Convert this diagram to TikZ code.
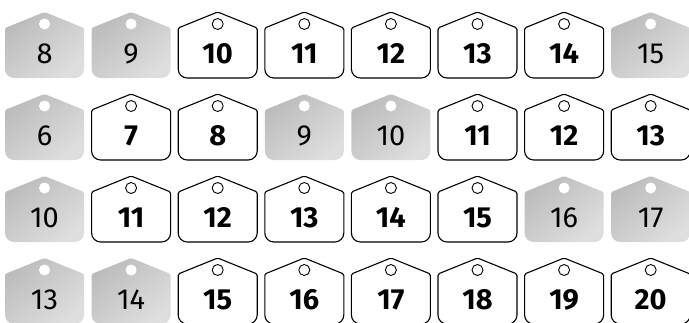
\documentclass[tikz,border=0pt]{standalone}
\usepackage{fontspec}
\setmainfont{Fira Sans}
\definecolor{tagdark}{RGB}{188,188,188}
\definecolor{taglight}{RGB}{222,222,222}
\tikzset{
  tagw/.style={draw=black, line width=1.1pt, fill=white},
  tagg/.style={top color=tagdark, bottom color=taglight, shading angle=40},
  holew/.style={draw=black, line width=0.9pt, fill=white},
  holeg/.style={fill=white},
  numg/.style={font=\fontsize{29}{30}\selectfont, anchor=base, inner sep=0pt},
  numw/.style={font=\fontsize{29}{30}\selectfont\bfseries, anchor=base, inner sep=0pt},
}
\newcommand{\tagpath}[2]{%
  (#1-39.5,#2-40) [rounded corners=1.5pt] -- (#1-39.5,#2-16) -- (#1,#2) -- (#1+39.5,#2-16) -- (#1+39.5,#2-40)
  [rounded corners=9pt] -- (#1+39.5,#2-66) -- (#1-39.5,#2-66) -- cycle}
\begin{document}
\begin{tikzpicture}[x=1pt,y=1pt]
\useasboundingbox (0,0) rectangle (689,-322);
\clip (0,0) rectangle (689,-322);
\foreach \row/\items in {0/{8/g,9/g,10/w,11/w,12/w,13/w,14/w,15/g},
                         1/{6/g,7/w,8/w,9/g,10/g,11/w,12/w,13/w},
                         2/{10/g,11/w,12/w,13/w,14/w,15/w,16/g,17/g},
                         3/{13/g,14/g,15/w,16/w,17/w,18/w,19/w,20/w}}{
  \foreach \n/\k [count=\col from 0] in \items {
    \pgfmathsetmacro{\cx}{44.5+86.6*\col}
    \pgfmathsetmacro{\ty}{-12-82*\row}
    \path[tag\k] \tagpath{\cx}{\ty};
    \path[hole\k] (\cx,\ty-12) circle[radius=5.5];
    \node[num\k] (t-\row-\col) at (\cx,\ty-51) {\n};
  }
}
\end{tikzpicture}
\end{document}
